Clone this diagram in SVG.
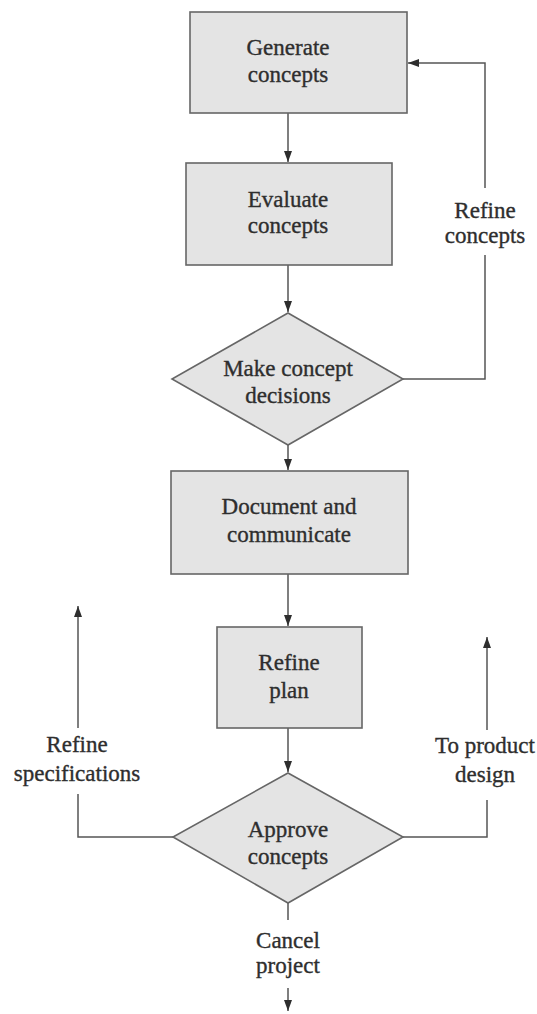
<svg xmlns="http://www.w3.org/2000/svg" width="537" height="1014" viewBox="0 0 537 1014">
  <style>
    .node { fill: #e4e4e4; stroke: #666; stroke-width: 1.6; }
    text { font-family: "Liberation Serif", "Times New Roman", "DejaVu Serif", serif; font-size: 23px; fill: #2e2e2e; stroke: #2e2e2e; stroke-width: 0.35; text-anchor: middle; }
    .wire { fill: none; stroke: #555; stroke-width: 1.5; }
  </style>
  <defs>
    <marker id="arrow" markerUnits="userSpaceOnUse" markerWidth="12" markerHeight="9" refX="11" refY="4" orient="auto">
      <path d="M0,0 L11,4 L0,8 z" fill="#2e2e2e"/>
    </marker>
  </defs>
  <rect width="537" height="1014" fill="#fff"/>

  <!-- connectors -->
  <g id="connectors" class="wire">
    <path d="M288,113 V162" marker-end="url(#arrow)"/>
    <path d="M288,265 V312" marker-end="url(#arrow)"/>
    <path d="M403,379 H485 V255"/>
    <path d="M485,188 V63 H408" marker-end="url(#arrow)"/>
    <path d="M288,445 V470" marker-end="url(#arrow)"/>
    <path d="M288,574 V626" marker-end="url(#arrow)"/>
    <path d="M288,728 V772" marker-end="url(#arrow)"/>
    <path d="M173,837 H78 V794"/>
    <path d="M78,728 V606" marker-end="url(#arrow)"/>
    <path d="M403,837 H487 V800"/>
    <path d="M487,730 V637" marker-end="url(#arrow)"/>
    <path d="M288,903 V920"/>
    <path d="M288,988 V1011" marker-end="url(#arrow)"/>
  </g>

  <g id="generate">
    <rect class="node" x="190" y="12" width="217" height="101"/>
    <text x="288" y="55">Generate</text>
    <text x="288" y="82">concepts</text>
  </g>

  <g id="evaluate">
    <rect class="node" x="186" y="163" width="206" height="102"/>
    <text x="288" y="207">Evaluate</text>
    <text x="288" y="233">concepts</text>
  </g>

  <g id="decide">
    <polygon class="node" points="288,313 403,379 288,445 172,379"/>
    <text x="288" y="376">Make concept</text>
    <text x="288" y="403">decisions</text>
  </g>

  <g id="document">
    <rect class="node" x="171" y="471" width="237" height="103"/>
    <text x="289" y="514">Document and</text>
    <text x="289" y="542">communicate</text>
  </g>

  <g id="refine-plan">
    <rect class="node" x="217" y="627" width="145" height="101"/>
    <text x="289" y="670">Refine</text>
    <text x="289" y="698">plan</text>
  </g>

  <g id="approve">
    <polygon class="node" points="288,773 403,837 288,903 173,837"/>
    <text x="288" y="837">Approve</text>
    <text x="288" y="864">concepts</text>
  </g>

  <g id="labels">
    <text x="485" y="218">Refine</text>
    <text x="485" y="243">concepts</text>
    <text x="77" y="752">Refine</text>
    <text x="77" y="781">specifications</text>
    <text x="485" y="753">To product</text>
    <text x="485" y="782">design</text>
    <text x="288" y="948">Cancel</text>
    <text x="288" y="973">project</text>
  </g>
</svg>
